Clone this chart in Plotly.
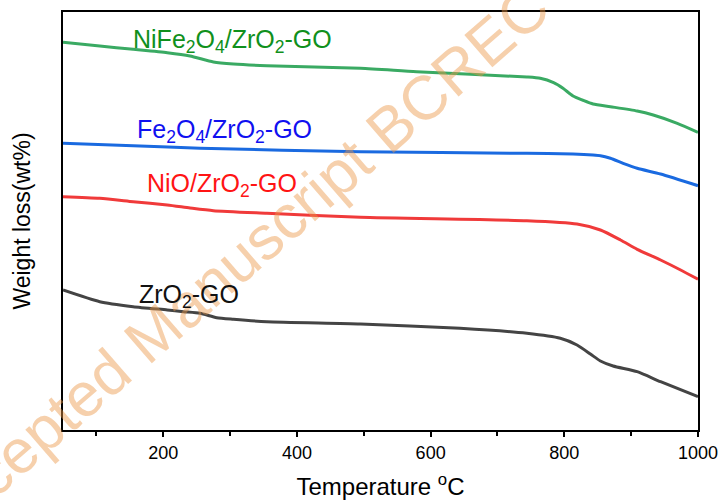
import plotly.graph_objects as go

# Temperature (°C) and relative weight signal (arbitrary offset units)
t_nife = [50, 105, 155, 206, 240, 275, 305, 355, 495, 579, 744, 764, 784, 798, 813, 827, 843, 869, 909, 933, 969, 1000]
w_nife = [387.7, 384, 380.7, 377.3, 374, 368, 366, 364.3, 361.7, 358.3, 353, 351.7, 347.3, 341.7, 334, 330, 326, 323.3, 319, 315, 306.7, 297.7]

t_fe = [50, 155, 255, 495, 744, 813, 843, 854, 869, 888, 909, 944, 1000]
w_fe = [286.7, 284.3, 281.7, 278.3, 276.7, 276, 275, 274.3, 271.7, 266.7, 261.7, 256, 244.3]

t_nio = [50, 105, 155, 206, 240, 275, 355, 495, 744, 819, 854, 884, 909, 944, 974, 1000]
w_nio = [233.3, 231.7, 228.3, 225, 222, 219.3, 216.7, 212.7, 209.3, 206, 200, 190, 180.7, 170, 160, 150.7]

t_zr = [50, 105, 155, 206, 230, 255, 280, 305, 355, 495, 644, 744, 794, 819, 839, 854, 873, 909, 944, 1000]
w_zr = [140, 128.3, 123.3, 120, 118.3, 116.7, 112.3, 110.7, 108.3, 106, 101.7, 96.7, 91.7, 85, 76, 69, 64, 58.3, 48.3, 33.3]

series_names = ["NiFe<sub>2</sub>O<sub>4</sub>/ZrO<sub>2</sub>-GO",
                "Fe<sub>2</sub>O<sub>4</sub>/ZrO<sub>2</sub>-GO",
                "NiO/ZrO<sub>2</sub>-GO",
                "ZrO<sub>2</sub>-GO"]
line_colors = ["#3aaa63", "#1a6ae0", "#f03a3a", "#444444"]
text_colors = ["#10901c", "#1010f0", "#ff1414", "#111111"]
label_x = [304, 292, 288, 239]      # temperature at label centre
label_y = [389, 299, 245, 134]      # weight signal at label centre

x_ticks = [200, 400, 600, 800, 1000]

FONT = "Liberation Sans, Arial, sans-serif"

fig = go.Figure()
for t, w, c in [(t_nife, w_nife, line_colors[0]), (t_fe, w_fe, line_colors[1]),
                (t_nio, w_nio, line_colors[2]), (t_zr, w_zr, line_colors[3])]:
    fig.add_trace(go.Scatter(x=t, y=w, mode="lines",
                             line=dict(color=c, width=3, shape="spline", smoothing=0.6),
                             showlegend=False, hoverinfo="skip"))

annotations = [dict(text="Accepted Manuscript BCREC", xref="paper", yref="paper",
                    x=0.267, y=0.396, xanchor="center", yanchor="middle",
                    textangle=-41, showarrow=False,
                    font=dict(family=FONT, size=62, color="rgba(235,150,70,0.45)"))]
for name, tc, lx, ly in zip(series_names, text_colors, label_x, label_y):
    annotations.append(dict(text=name, x=lx, y=ly, xref="x", yref="y",
                            xanchor="center", yanchor="middle", showarrow=False,
                            font=dict(family=FONT, size=25, color=tc)))

fig.update_layout(
    width=721, height=500,
    margin=dict(l=63, r=23, t=12, b=70),
    paper_bgcolor="white", plot_bgcolor="white",
    font=dict(family=FONT, color="black"),
    annotations=annotations,
    xaxis=dict(range=[50, 1000], tickvals=x_ticks, ticks="outside", ticklen=5, tickwidth=1.5,
               tickcolor="black", showline=True, linecolor="black", linewidth=2, mirror=True,
               showgrid=False, zeroline=False, tickfont=dict(size=18), automargin=False,
               minor=dict(dtick=100, tick0=0, ticks="outside", ticklen=4, tickwidth=1.5, tickcolor="black"),
               title=dict(text="Temperature <sup>o</sup>C", font=dict(size=24), standoff=18)),
    yaxis=dict(range=[0, 418], showticklabels=False, ticks="", showline=True, linecolor="black",
               linewidth=2, mirror=True, showgrid=False, zeroline=False, automargin=False,
               title=dict(text="Weight loss(wt%)", font=dict(size=23), standoff=24)),
)

fig.write_html("out.html")
